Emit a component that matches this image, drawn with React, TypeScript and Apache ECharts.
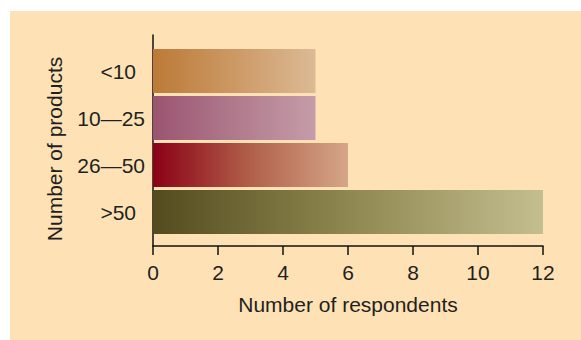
import React, { useEffect, useRef } from "react";
import * as echarts from "echarts";

// ---- data ----
const categories = ["<10", "10—25", "26—50", ">50"];
const respondents = [5, 5, 6, 12];
const xMin = 0;
const xMax = 12;
const xStep = 2;
const xTitle = "Number of respondents";
const yTitle = "Number of products";

// ---- styles ----
const barGradients: string[][] = [
  ["#BC7A37", "#CC9965", "#DCBA95"],
  ["#9A5470", "#B07A8C", "#C69CA9"],
  ["#8B0016", "#B1604A", "#D5A688"],
  ["#534B1E", "#8E8750", "#C4BE90"],
];
const FONT = "'Liberation Sans', Arial, Helvetica, sans-serif";
const TEXT = "#231f20";
const PANEL = "#FEE2B6";

export default function App() {
  const ref = useRef<HTMLDivElement>(null);

  useEffect(() => {
    document.body.style.margin = "0";
    if (!ref.current) return;
    const chart = echarts.init(ref.current, undefined, { renderer: "svg" });

    const grad = (stops: string[]) =>
      new echarts.graphic.LinearGradient(0, 0, 1, 0,
        stops.map((c, i) => ({ offset: i / (stops.length - 1), color: c })));

    const option: any = {
      animation: false,
      backgroundColor: PANEL,
      textStyle: { fontFamily: FONT, color: TEXT },
      grid: [
        { left: 143, top: 24, width: 390, height: 211, containLabel: false },
        { left: 143, top: 36.5, width: 390, height: 188, containLabel: false },
      ],
      xAxis: [
        {
          gridIndex: 0,
          type: "value",
          min: xMin,
          max: xMax,
          interval: xStep,
          axisLine: { show: true, lineStyle: { color: "#111", width: 1.5 } },
          axisTick: { show: true, length: 9, lineStyle: { color: "#111", width: 1.5 } },
          axisLabel: { fontSize: 21, color: TEXT, fontFamily: FONT, margin: 16 },
          splitLine: { show: false },
          name: xTitle,
          nameLocation: "middle",
          nameGap: 48,
          nameTextStyle: { fontSize: 21, color: TEXT, fontFamily: FONT },
        },
        {
          gridIndex: 1,
          type: "value",
          min: xMin,
          max: xMax,
          show: false,
        },
      ],
      yAxis: [
        {
          gridIndex: 0,
          type: "value",
          min: 0,
          max: 1,
          axisLine: { show: true, lineStyle: { color: "#111", width: 1.5 } },
          axisTick: { show: false },
          axisLabel: { show: false },
          splitLine: { show: false },
        },
        {
          gridIndex: 1,
          type: "category",
          data: categories,
          inverse: true,
          axisLine: { show: false },
          axisTick: { show: false },
          axisLabel: {
            margin: 8,
            formatter: (v: string) => (v.length < 4 ? `{s|${v}}` : `{l|${v}}`),
            rich: {
              s: { fontSize: 21, color: TEXT, fontFamily: FONT, padding: [0, 9, 0, 0] },
              l: { fontSize: 21, color: TEXT, fontFamily: FONT },
            },
          },
          name: yTitle,
          nameLocation: "middle",
          nameGap: 88,
          nameTextStyle: { fontSize: 21, color: TEXT, fontFamily: FONT, padding: [0, 15, 0, 0] },
        },
      ],
      series: [
        {
          type: "bar",
          xAxisIndex: 1,
          yAxisIndex: 1,
          barWidth: 44,
          data: respondents.map((v, i) => ({
            value: v,
            itemStyle: { color: grad(barGradients[i]) },
          })),
        },
      ],
    };

    chart.setOption(option);
    return () => chart.dispose();
  }, []);

  return (
    <div style={{ position: "relative", width: 581, height: 340, background: "#fff" }}>
      <div
        ref={ref}
        style={{ position: "absolute", left: 10, top: 11, width: 571, height: 329 }}
      />
    </div>
  );
}
